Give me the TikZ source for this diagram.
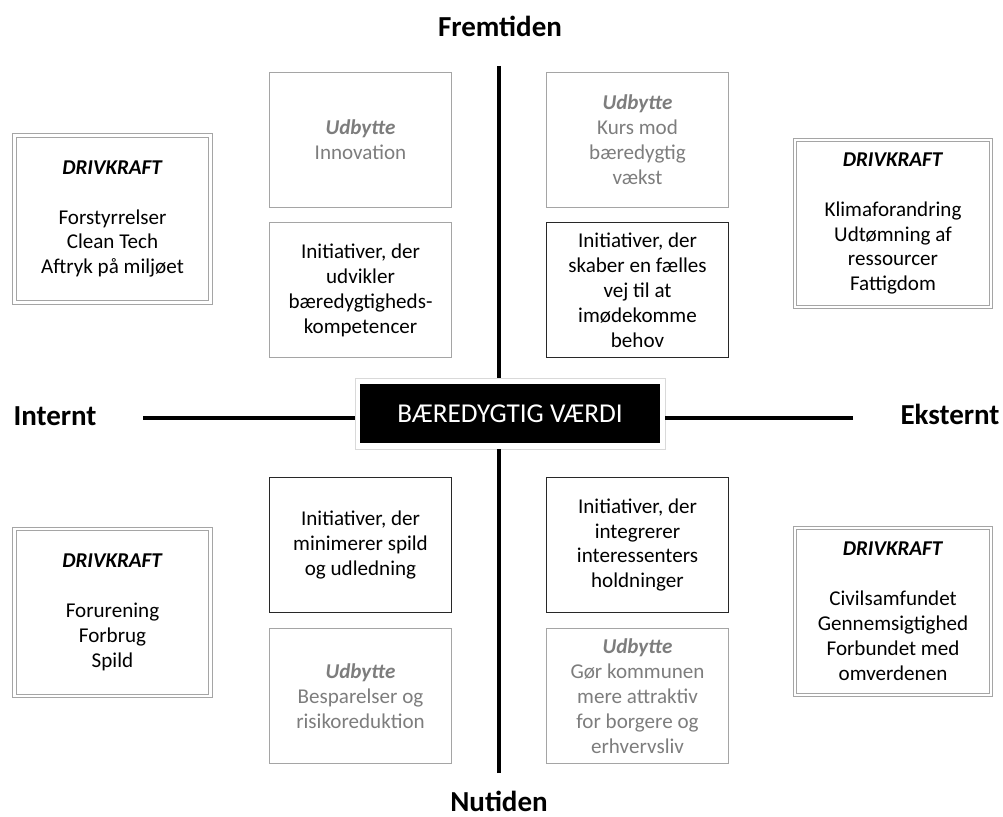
\documentclass[tikz,border=0pt]{standalone}
\usepackage{fontspec}
\setmainfont{Carlito}
\usetikzlibrary{positioning, shadows}
\definecolor{framegray}{RGB}{165,165,165}
\definecolor{yieldgray}{RGB}{125,125,125}
\definecolor{darkframe}{RGB}{40,40,40}

\begin{document}
\begin{tikzpicture}[
    x=0.02cm, y=-0.02cm,
    every node/.style={font=\fontsize{12}{14.2}\selectfont},
    quadbox/.style={rectangle, draw, line width=0.9pt, minimum width=3.64cm, minimum height=2.7cm, inner sep=0pt, align=center},
    yieldbox/.style={quadbox, draw=framegray, text=yieldgray},
    initbox/.style={quadbox, draw=darkframe},
    drivebox/.style={rectangle, draw=framegray, line width=0.75pt, double=white, double distance=1.2pt, minimum width=3.92cm, minimum height=3.34cm, inner sep=0pt, align=center},
    heading/.style={font=\fontsize{16.5}{20}\selectfont\bfseries, anchor=base},
    axis/.style={line width=2pt}
]
    \useasboundingbox (0,0) rectangle (1003,817);

    % Value in the middle
    \node[rectangle, fill=white, draw=gray!30, line width=0.3pt,
          drop shadow={shadow xshift=0.6pt, shadow yshift=-0.8pt, opacity=0.25},
          minimum width=6.2cm, minimum height=1.42cm] (coreframe) at (510,413.5) {};
    \node[rectangle, fill=black, text=white, minimum width=6cm, minimum height=1.2cm,
          font=\fontsize{15.5}{18}\selectfont] (core) at (coreframe) {BÆREDYGTIG VÆRDI};

    % Axes
    \node[heading] (future) at (500,37) {Fremtiden};
    \node[heading] (present) at (499,811) {Nutiden};
    \node[heading] (inside) at (55,425) {Internt};
    \node[heading] (outside) at (950,424) {Eksternt};
    \coordinate (vtop) at (499,66);
    \coordinate (vbot) at (499,773);
    \coordinate (hleft) at (143,418);
    \coordinate (hright) at (853,418);
    \draw[axis, line width=2.3pt] (vtop) -- (vtop |- coreframe.north);
    \draw[axis, line width=2.3pt] (vbot) -- (vbot |- coreframe.south);
    \draw[axis] (hleft) -- (hleft -| coreframe.west);
    \draw[axis] (hright) -- (hright -| coreframe.east);

    % Upper quadrants
    \node[yieldbox] (yieldTL) at (360.5,140) {\textbf{\textit{Udbytte}}\\Innovation};
    \node[yieldbox] (yieldTR) at (637.5,140) {\textbf{\textit{Udbytte}}\\Kurs mod\\bæredygtig\\vækst};
    \node[quadbox, draw=framegray] (initTL) at (360.5,290) {Initiativer, der\\udvikler\\bæredygtigheds-\\kompetencer};
    \node[initbox] (initTR) at (637.5,290) {Initiativer, der\\skaber en fælles\\vej til at\\imødekomme\\behov};

    % Lower quadrants
    \node[initbox] (initBL) at (360.5,545) {Initiativer, der\\minimerer spild\\og udledning};
    \node[initbox] (initBR) at (637.5,545) {Initiativer, der\\integrerer\\interessenters\\holdninger};
    \node[yieldbox] (yieldBL) at (360.5,696) {\textbf{\textit{Udbytte}}\\Besparelser og\\risikoreduktion};
    \node[yieldbox] (yieldBR) at (637.5,696) {\textbf{\textit{Udbytte}}\\Gør kommunen\\mere attraktiv\\for borgere og\\erhvervsliv};

    % Drivers
    \node[drivebox] (driveTL) at (112.5,219) {\textbf{\textit{DRIVKRAFT}}\\[\baselineskip]Forstyrrelser\\Clean Tech\\Aftryk på miljøet};
    \node[drivebox] (driveTR) at (893,223.5) {\textbf{\textit{DRIVKRAFT}}\\[\baselineskip]Klimaforandring\\Udtømning af\\ressourcer\\Fattigdom};
    \node[drivebox] (driveBL) at (112.5,612.5) {\textbf{\textit{DRIVKRAFT}}\\[\baselineskip]Forurening\\Forbrug\\Spild};
    \node[drivebox] (driveBR) at (893,611.5) {\textbf{\textit{DRIVKRAFT}}\\[\baselineskip]Civilsamfundet\\Gennemsigtighed\\Forbundet med\\omverdenen};
\end{tikzpicture}
\end{document}
